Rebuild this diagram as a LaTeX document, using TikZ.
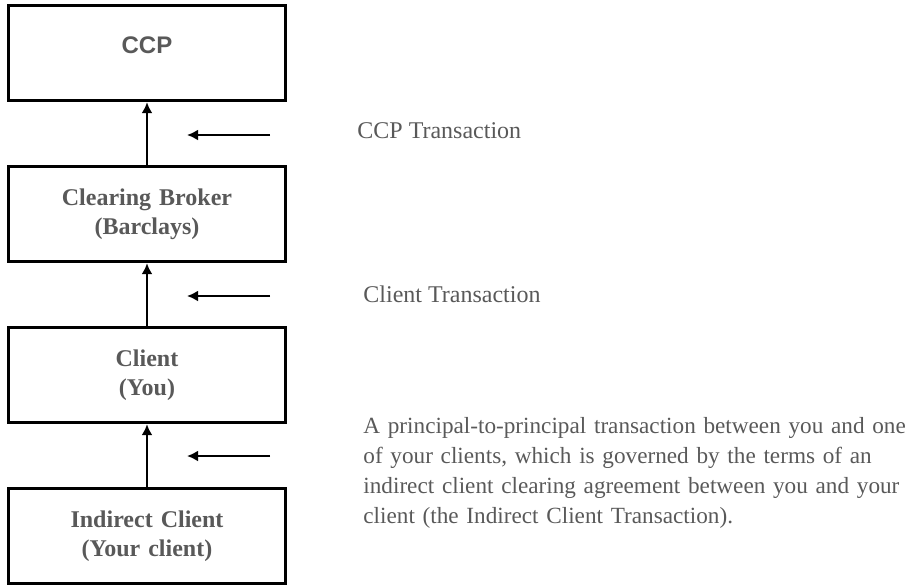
\documentclass[tikz,border=0pt]{standalone}
\usepackage{fontspec}
\setmainfont{Liberation Serif}
\newfontfamily\arialfont{Liberation Sans}
\usetikzlibrary{matrix, arrows.meta}
\definecolor{txtgray}{HTML}{595959}

\begin{document}
\begin{tikzpicture}[x = 0.5pt, y = -0.5pt,
  box/.style = {draw, line width = 1.4pt, minimum width = 138.5pt, minimum height = 47.5pt,
    inner sep = 0pt, text width = 130pt, align = center, text = txtgray,
    font = \fontsize{12}{14.5}\selectfont\bfseries},
  flow/.style = {line width = 1.3pt, -{Latex[length = 5.5pt, width = 5.5pt]}},
  note/.style = {anchor = base west, inner sep = 0pt, text = txtgray,
    font = \fontsize{12}{15}\selectfont}]
\useasboundingbox (0,0) rectangle (910,586);
\matrix (m) [matrix of nodes, row sep = 31.6pt, nodes = {box}] at (147,294.75) {
|[text depth = 8pt, font = \fontsize{12}{14.5}\selectfont\arialfont\bfseries]| CCP \\
{Clearing Broker\\(Barclays)} \\
{Client\\(You)} \\
{Indirect Client\\(Your client)} \\
};
\draw [flow] (m-2-1.north) -- (m-1-1.south);
\draw [flow] (m-3-1.north) -- (m-2-1.south);
\draw [flow] (m-4-1.north) -- (m-3-1.south);

\coordinate (ccp-from) at (270,135);
\coordinate (ccp-to) at (187,135);
\coordinate (cl-from) at (270,296);
\coordinate (cl-to) at (187,296);
\coordinate (ind-from) at (270,456);
\coordinate (ind-to) at (187,456);
\draw [flow] (ccp-from) -- (ccp-to);
\draw [flow] (cl-from) -- (cl-to);
\draw [flow] (ind-from) -- (ind-to);

\node [note] (ccp-tx) at (357,138) {CCP Transaction};
\node [note] (cl-tx) at (363,302) {Client Transaction};
\node [note, text width = 300pt, align = left, font = \fontsize{11.6}{15}\selectfont] (ind-tx) at (363,433) {A principal-to-principal transaction between you and one\\
of your clients, which is governed by the terms of an\\
indirect client clearing agreement between you and your\\
client (the Indirect Client Transaction).};
\end{tikzpicture}
\end{document}
